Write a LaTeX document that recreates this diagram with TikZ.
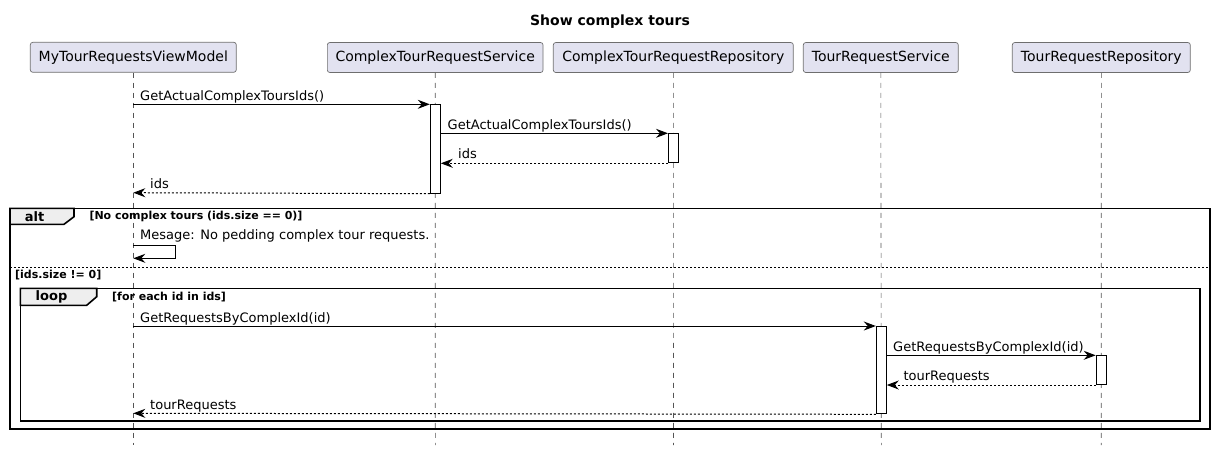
\documentclass[tikz,border=0pt]{standalone}
\usepackage{fontspec}
\setmainfont{DejaVu Sans}
\usetikzlibrary{arrows.meta}
\definecolor{partfill}{HTML}{E2E2F0}
\definecolor{partline}{HTML}{6E6E6E}
\definecolor{lifecol}{HTML}{555555}
\definecolor{tabfill}{HTML}{EEEEEE}
\begin{document}
\begin{tikzpicture}[x=1pt,y=-1pt,
  part/.style={draw=partline,line width=0.7pt,fill=partfill,rounded corners=2.5pt,inner sep=0pt,minimum height=30pt,font=\fontsize{14}{16}\selectfont},
  lifeline/.style={draw=lifecol,line width=0.6pt,dash pattern=on 5pt off 5pt},
  actbox/.style={draw=black,line width=1pt,fill=white,minimum width=10pt,inner sep=0pt,anchor=north},
  msg/.style={draw=black,line width=1pt,-{Stealth[length=12pt,width=9pt,inset=4pt]}},
  ret/.style={msg,dash pattern=on 2pt off 2pt},
  lbl/.style={font=\fontsize{13}{15}\selectfont,inner sep=0pt,anchor=base west},
  cond/.style={font=\bfseries\fontsize{11}{13}\selectfont,inner sep=0pt,anchor=base west},
  tablbl/.style={font=\bfseries\fontsize{13}{15}\selectfont,inner sep=0pt},
  frame/.style={draw=black,line width=1.6pt}
]
\useasboundingbox (0,0) rectangle (1216,451);
% title
\node[font=\bfseries\fontsize{14}{16}\selectfont,inner sep=0pt] (title) at (610,22) {Show complex tours};
% participants
\node[part,minimum width=206pt] (p1) at (133.3,57.3) {MyTourRequestsViewModel};
\node[part,minimum width=215.7pt] (p2) at (435.2,57.5) {ComplexTourRequestService};
\node[part,minimum width=240pt] (p3) at (673.3,57.5) {ComplexTourRequestRepository};
\node[part,minimum width=155pt] (p4) at (880.8,57.5) {TourRequestService};
\node[part,minimum width=178pt] (p5) at (1101.3,57.5) {TourRequestRepository};
% lifeline ends
\coordinate (e1) at (133.3,445);
\coordinate (e2) at (435.3,445);
\coordinate (e3) at (673.5,445);
\coordinate (e4) at (881.3,445);
\coordinate (e5) at (1101.2,445);
\draw[lifeline] (p1.south) -- (e1);
\draw[lifeline] (p2.south) -- (e2);
\draw[lifeline] (p3.south) -- (e3);
\draw[lifeline] (p4.south) -- (e4);
\draw[lifeline] (p5.south) -- (e5);
% frames
\draw[frame] (10,208.3) rectangle (1210,428.7);
\draw[frame,fill=tabfill] (10,208.3) -- (74,208.3) -- (74,216.7) -- (64,224.3) -- (10,224.3) -- cycle;
\node[tablbl] (altlbl) at (34.5,216.3) {alt};
\node[cond] (altcond) at (89.3,219.5) {[No complex tours (ids.size == 0)]};
\coordinate (sepL) at (10,267.3);
\coordinate (sepR) at (1210,267.3);
\draw[line width=1pt,dash pattern=on 2pt off 2pt] (sepL) -- (sepR);
\node[cond] (elsecond) at (15,278) {[ids.size != 0]};
\draw[frame] (20.3,288.3) rectangle (1200,421);
\draw[frame,fill=tabfill] (20.3,288.3) -- (96.7,288.3) -- (96.7,296.7) -- (86.7,305.3) -- (20.3,305.3) -- cycle;
\node[tablbl] (looplbl) at (51.5,296.8) {loop};
\node[cond] (loopcond) at (112,300.5) {[for each id in ids]};
% activation boxes
\node[actbox,minimum height=88.4pt] (a1) at (435.3,104.3) {};
\node[actbox,minimum height=29pt] (a2) at (673.5,133.3) {};
\node[actbox,minimum height=87.3pt] (a3) at (881.3,326) {};
\node[actbox,minimum height=28.7pt] (a4) at (1101.2,355.3) {};
% message endpoints on lifeline 1
\coordinate (s1) at (133.3,104.3);
\coordinate (r1) at (133.3,192.7);
\coordinate (sm1) at (133.3,245.3);
\coordinate (sm2) at (133.3,258.3);
\coordinate (s5) at (133.3,326);
\coordinate (r5) at (133.3,413.3);
% messages
\draw[msg] (s1) -- (a1.north west);
\node[lbl] (l1) at (140,100.3) {GetActualComplexToursIds()};
\draw[msg] (a1.east |- a2.north) -- (a2.north west);
\node[lbl] (l2) at (447.5,129.3) {GetActualComplexToursIds()};
\draw[ret] (a2.south west) -- (a1.east |- a2.south);
\node[lbl] (l3) at (458,158.3) {ids};
\draw[ret] (a1.south west) -- (r1);
\node[lbl] (l4) at (150,188.6) {ids};
\draw[msg] (sm1) -- ++(42,0) |- (sm2);
\node[lbl] (l5) at (140,239.5) {Mesage: No pedding complex tour requests.};
\draw[msg] (s5) -- (a3.north west);
\node[lbl] (l6) at (140,322) {GetRequestsByComplexId(id)};
\draw[msg] (a3.east |- a4.north) -- (a4.north west);
\node[lbl] (l7) at (893,351.3) {GetRequestsByComplexId(id)};
\draw[ret] (a4.south west) -- (a3.east |- a4.south);
\node[lbl] (l8) at (903.3,380) {tourRequests};
\draw[ret] (a3.south west) -- (r5);
\node[lbl] (l9) at (150,409.3) {tourRequests};
\end{tikzpicture}
\end{document}
